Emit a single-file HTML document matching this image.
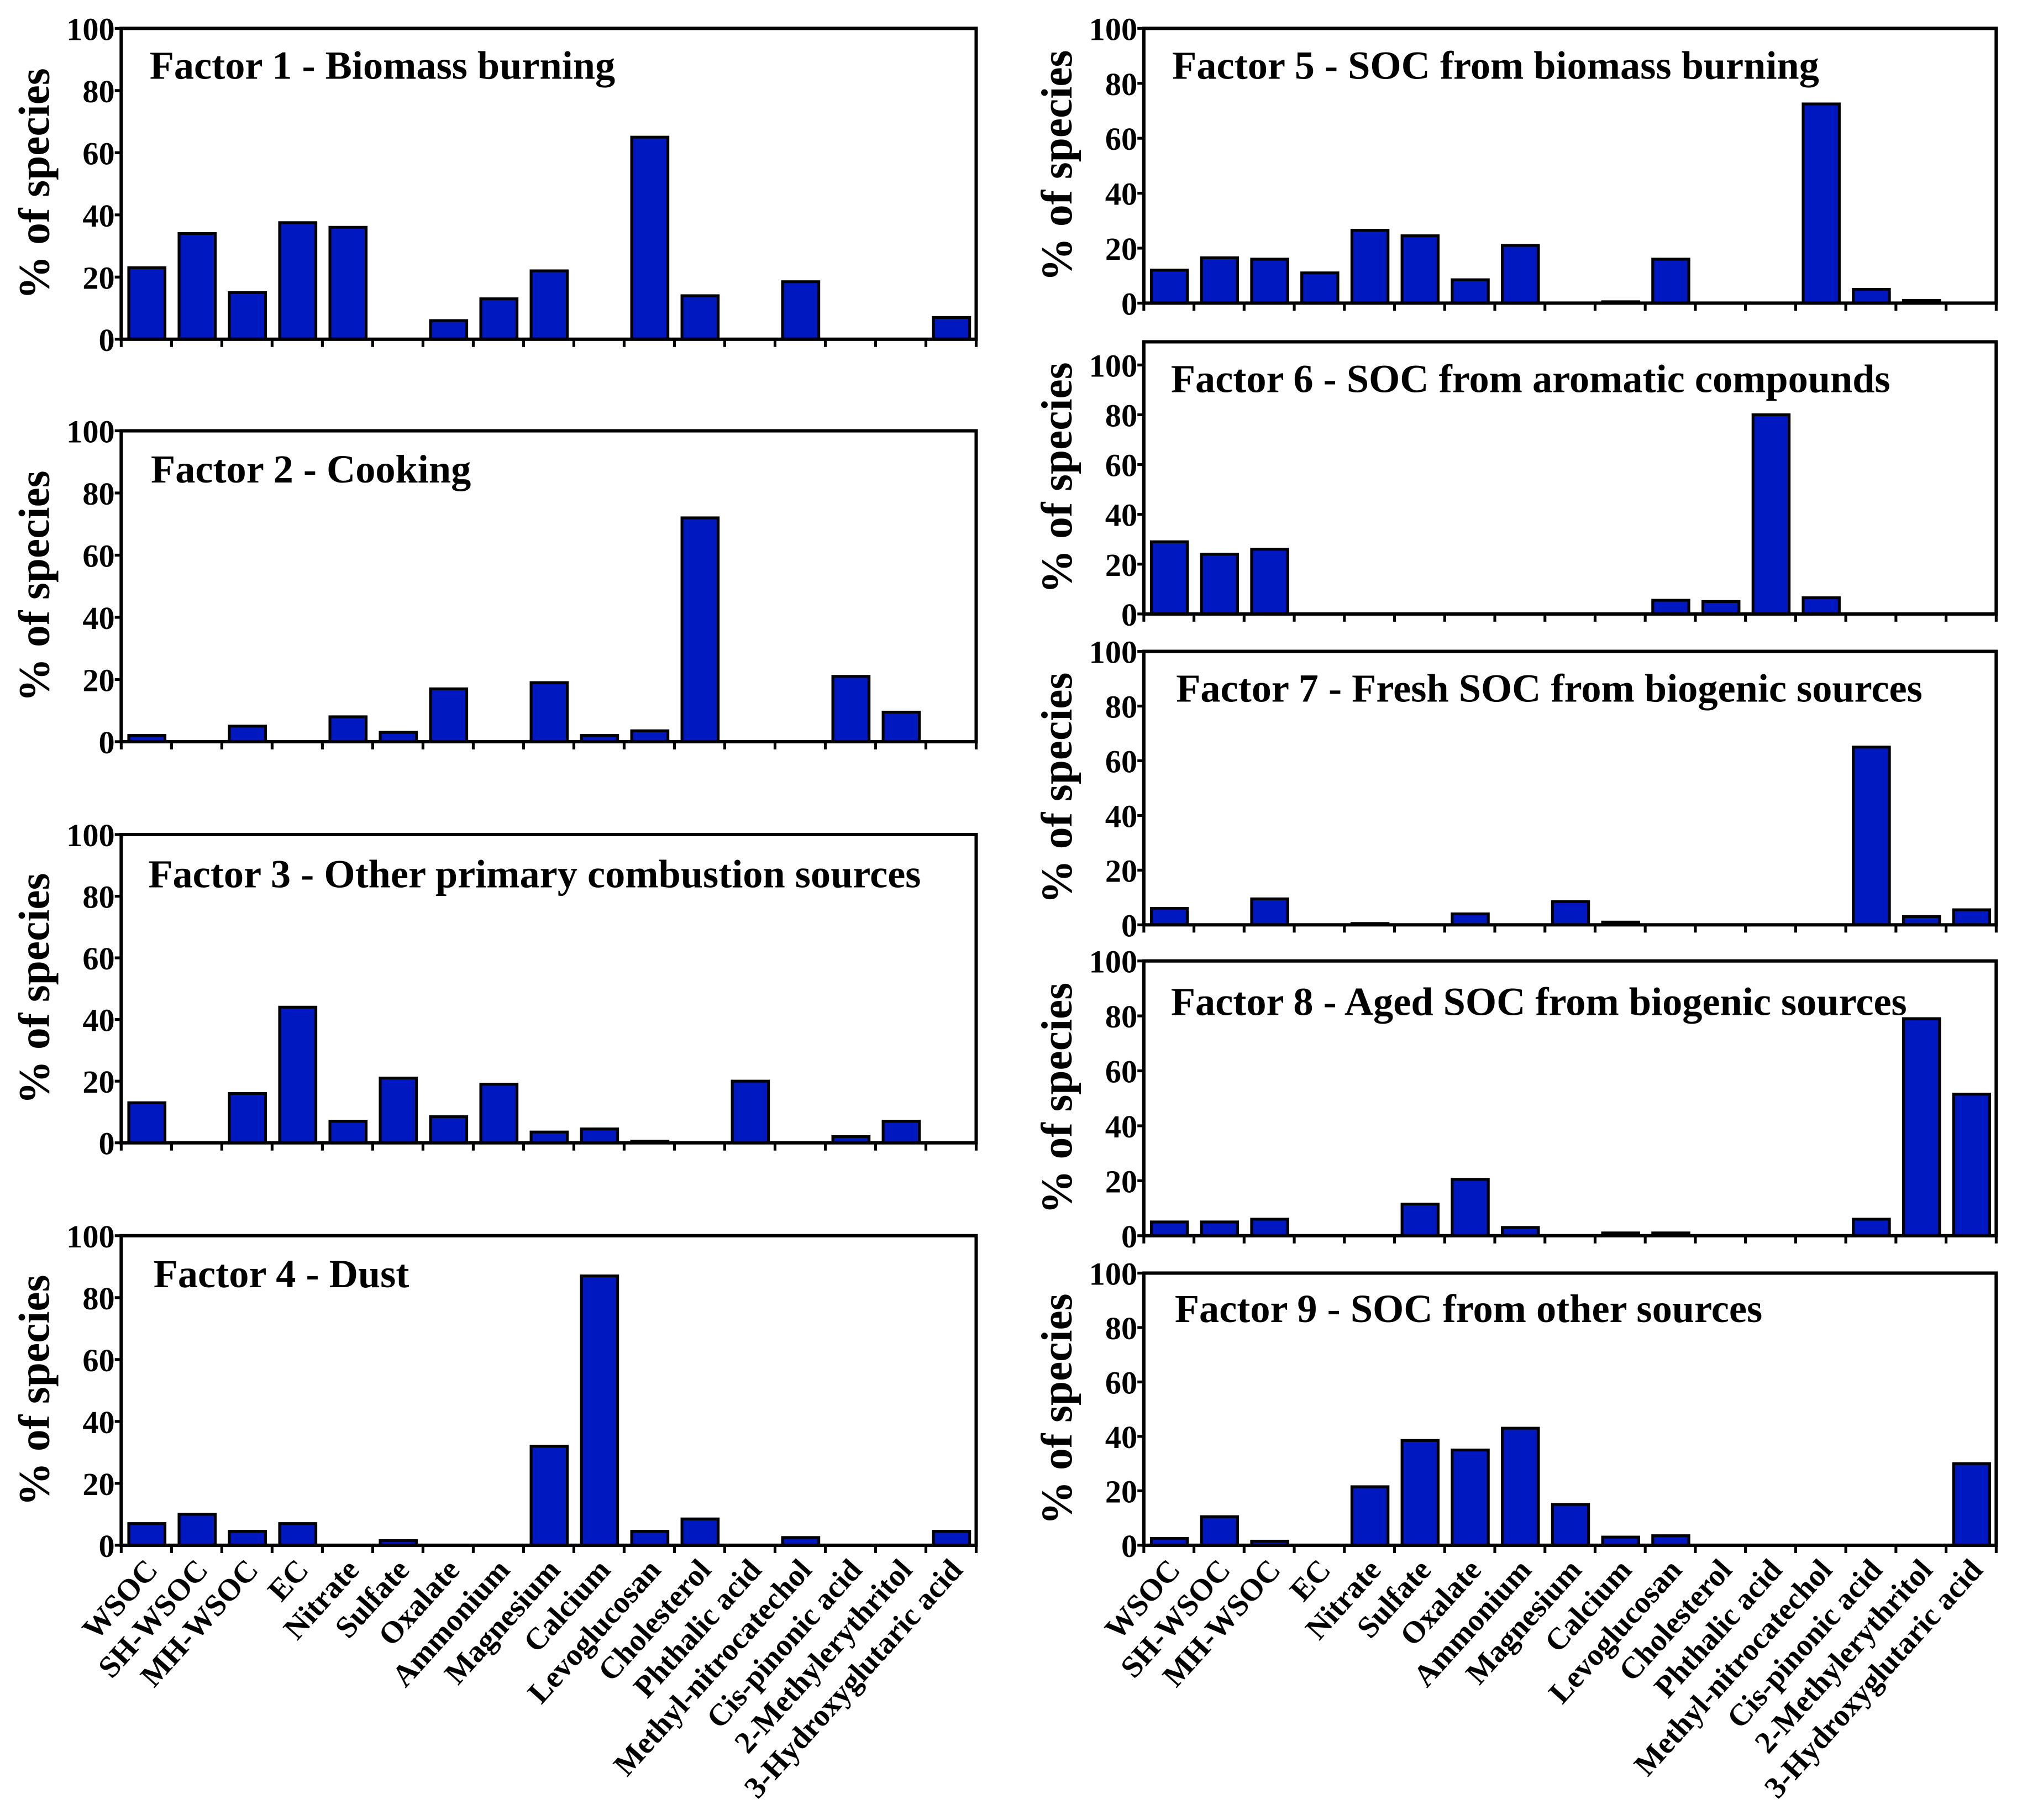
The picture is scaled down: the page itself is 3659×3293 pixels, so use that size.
<!DOCTYPE html>
<html><head><meta charset="utf-8"><style>
html,body{margin:0;padding:0;background:#fff;}
svg{display:block;}
svg text{font-family:"Liberation Serif","Times New Roman",serif;font-weight:bold;}
</style></head><body>
<svg id="fig" width="3659" height="3293" viewBox="0 0 1568 1411" preserveAspectRatio="none" xmlns="http://www.w3.org/2000/svg"></svg>
<script>
const categories = ["WSOC","SH-WSOC","MH-WSOC","EC","Nitrate","Sulfate","Oxalate","Ammonium","Magnesium","Calcium","Levoglucosan","Cholesterol","Phthalic acid","Methyl-nitrocatechol","Cis-pinonic acid","2-Methylerythritol","3-Hydroxyglutaric acid"];
const titles = ["Factor 1 - Biomass burning","Factor 2 - Cooking","Factor 3 - Other primary combustion sources","Factor 4 - Dust","Factor 5 - SOC from biomass burning","Factor 6 - SOC from aromatic compounds","Factor 7 - Fresh SOC from biogenic sources","Factor 8 - Aged SOC from biogenic sources","Factor 9 - SOC from other sources"];
const f1 = [23,34,15,37.5,36,0,6,13,22,0,65,14,0,18.5,0,0,7];
const f2 = [2,0,5,0,8,3,17,0,19,2,3.5,72,0,0,21,9.5,0];
const f3 = [13,0,16,44,7,21,8.5,19,3.5,4.5,0.5,0,20,0,2,7,0];
const f4 = [7,10,4.5,7,0,1.5,0,0,32,87,4.5,8.5,0,2.5,0,0,4.5];
const f5 = [12,16.5,16,11,26.5,24.5,8.5,21,0,0.5,16,0,0,72.5,5,1,0];
const f6 = [29,24,26,0,0,0,0,0,0,0,5.5,5,80,6.5,0,0,0];
const f7 = [6,0,9.5,0,0.5,0,4,0,8.5,1,0,0,0,0,65,3,5.5];
const f8 = [5,5,6,0,0,11.5,20.5,3,0,1,1,0,0,0,6,79,51.5];
const f9 = [2.5,10.5,1.5,0,21.5,38.5,35,43,15,3,3.5,0,0,0,0,0,30];
const yTicks = [0,20,40,60,80,100];
const series = [f1,f2,f3,f4,f5,f6,f7,f8,f9];

const panels = [
 [94,757,22,263,100,116,61],
 [94,757,334,575,100,117,374],
 [94,757,647,886,100,115,688],
 [94,757,958,1198,100,119,998],
 [887,1548,22,235,100,909,61],
 [887,1548,265,476,109.3,908,304],
 [887,1548,505,717,100,912,544],
 [887,1548,745,958,100,908,787],
 [887,1548,987,1198,100,911,1025]
];
const NS="http://www.w3.org/2000/svg";
const svg=document.getElementById('fig');
function mk(tag,attrs,parent){const e=document.createElementNS(NS,tag);for(const k in attrs)e.setAttribute(k,attrs[k]);(parent||svg).appendChild(e);return e;}

panels.forEach((p,pi)=>{
  const [L,R,T,B,ymax,tx,ty]=p;
  const g=mk('g',{});
  
  
  const n=categories.length, slot=(R-L)/n;
  const yScale=v=>B-(v/ymax)*(B-T);
  const xScale=i=>L+slot*i;
  series[pi].forEach((v,i)=>{
    if(v<=0)return;
    const r=mk('rect',{x:xScale(i)+slot*0.15,y:yScale(v),width:slot*0.72,height:B-yScale(v),fill:'#0018c0',stroke:'#000','stroke-width':2.2},g);
    
    
  });
  const fr=mk('rect',{x:L,y:T,width:R-L,height:B-T,fill:'none',stroke:'#000','stroke-width':2.6},g);
  
  
  yTicks.forEach(t=>{
    const y=yScale(t);
    mk('line',{x1:L-5,x2:L,y1:y,y2:y,stroke:'#000','stroke-width':2.2},g);
    const tl=mk('text',{x:L-5,y:y+9,'text-anchor':'end','font-size':25},g);
    tl.textContent=t;
    
    
  });
  for(let i=0;i<=n;i++){
    mk('line',{x1:xScale(i),x2:xScale(i),y1:B,y2:B+6,stroke:'#000','stroke-width':2.2},g);
  }
  const cy=(T+B)/2;
  const yt=mk('text',{x:0,y:0,'text-anchor':'middle','font-size':34,transform:`translate(${L-56},${cy}) rotate(-90)`},g);
  yt.textContent='% of species';
  
  
  const tt=mk('text',{x:tx,y:ty,'font-size':31},g);
  tt.textContent=titles[pi];
  
  
  if(pi===3||pi===8){
    categories.forEach((c,i)=>{
      const cx=xScale(i)+slot*0.5+10;
      const lt=mk('text',{x:0,y:0,'text-anchor':'end','font-size':24,transform:`translate(${cx},${B+20}) rotate(-48)`},g);
      lt.textContent=c;
      
      
    });
  }
});
</script>
</body></html>
